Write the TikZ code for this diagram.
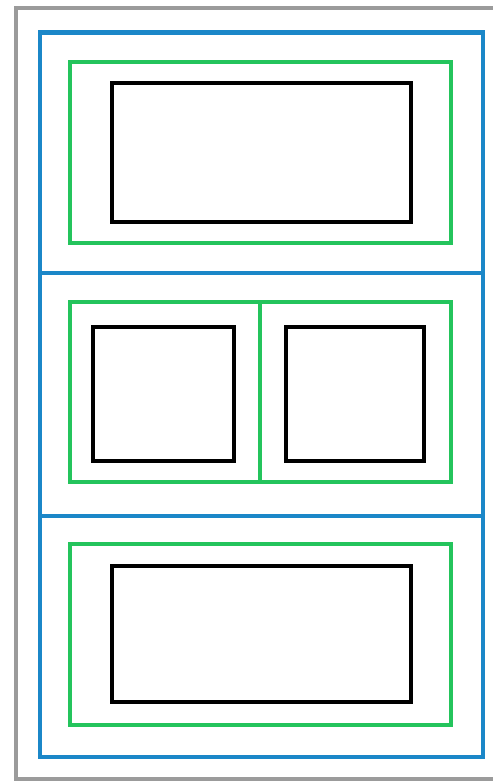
\documentclass[tikz,border=0pt]{standalone}
\usepackage{tikz}
\definecolor{rowblue}{RGB}{27,135,200}
\definecolor{framegreen}{RGB}{36,196,92}
\definecolor{edgegray}{RGB}{155,155,155}
\tikzstyle{outer}=[draw=edgegray, line width=2.3pt]
\tikzstyle{rowbox}=[draw=rowblue, line width=2.7pt]
\tikzstyle{greenbox}=[draw=framegreen, line width=2.4pt]
\tikzstyle{blackbox}=[draw=black, line width=2.4pt]

\begin{document}
\begin{tikzpicture}[x=0.02cm, y=-0.02cm]
\useasboundingbox (0,0) rectangle (493,781);
\clip (0,0) rectangle (493,781);
% page edge
\draw[outer] (520,8) -- (16,8) -- (16,779) -- (520,779);
% three rows
\draw[rowbox] (40,32.5) rectangle (483,757);
\foreach \y in {273,516}
{
\draw[rowbox] (40,\y) -- (483,\y);
}
% green frames
\foreach \a/\b in {62/243,302/482,544/725}
{
\draw[greenbox] (70,\a) rectangle (451,\b);
}
\draw[greenbox] (260,302) -- (260,482);
% black boxes
\foreach \a/\b in {83/222,566/702}
{
\draw[blackbox] (112,\a) rectangle (411,\b);
}
\draw[blackbox] (93,327) rectangle (234,461);
\draw[blackbox] (286,327) rectangle (424,461);
\end{tikzpicture}
\end{document}
